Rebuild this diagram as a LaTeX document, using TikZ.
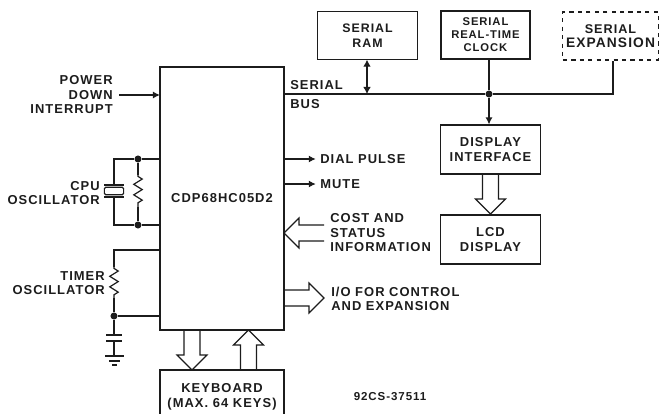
\documentclass[tikz,border=0pt]{standalone}
\usepackage{fontspec}
\setmainfont[LetterSpace=8]{Liberation Sans}
\usetikzlibrary{arrows.meta,decorations.pathmorphing}
\definecolor{ink}{HTML}{1C1C1C}
\tikzset{
  wire/.style={draw=ink,line width=0.85pt},
  sig/.style={wire,-{Latex[length=5pt,width=5pt]}},
  lbl/.style={text=ink,inner sep=0pt,font=\bfseries\fontsize{9.2}{10.3}\selectfont},
  block/.style={wire,lbl,align=center,inner sep=0pt},
  junction/.style={circle,fill=ink,inner sep=0pt,minimum size=5pt},
  zig/.style={wire,decorate,decoration={zigzag,segment length=7.5pt,amplitude=3pt,pre length=1pt,post length=1pt}}
}
\newcommand{\fatarrow}[3]{\draw[wire,shift={(#1)},rotate=#2] (-#3,8) -- (-15,8) -- (-15,15) -- (0,0) -- (-15,-15) -- (-15,-8) -- (-#3,-8);}
\begin{document}
\begin{tikzpicture}[x=0.025cm,y=-0.025cm]
\useasboundingbox (0,0) rectangle (659,414);
% blocks
\node[block,minimum width=3.1cm,minimum height=6.57cm] (mcu) at (222,198.5) {CDP68HC05D2};
\node[block,minimum width=3.1cm,minimum height=1.35cm] (kbd) at (222,397) {KEYBOARD\\(MAX. 64 KEYS)};
\node[block,minimum width=2.48cm,minimum height=1.18cm,font=\bfseries\fontsize{8.8}{10.3}\selectfont] (ram) at (367.5,35.5) {SERIAL\\RAM};
\node[block,minimum width=2.23cm,minimum height=1.2cm,line width=1.2pt,font=\bfseries\fontsize{8}{9.2}\selectfont] (rtc) at (485.5,35) {SERIAL\\REAL-TIME\\CLOCK};
\node[block,dashed,minimum width=2.38cm,minimum height=1.2cm,font=\bfseries\fontsize{9.8}{10.3}\selectfont] (exp) at (610.5,36) {{\fontsize{9}{10.3}\selectfont SERIAL}\\EXPANSION};
\node[block,minimum width=2.48cm,minimum height=1.22cm] (disp) at (490.5,149.5) {DISPLAY\\INTERFACE};
\node[block,minimum width=2.48cm,minimum height=1.22cm] (lcd) at (490.5,239.5) {LCD\\DISPLAY};

% serial bus
\coordinate (busl) at (284,94);
\coordinate (busr) at (613,94);
\coordinate (busram) at (367,94);
\node[junction] (busj) at (489,94) {};
\draw[wire] (busl) -- (busj) -- (busr) -- (busr |- exp.south);
\draw[wire,{Latex[length=5pt,width=5.5pt]}-{Latex[length=5pt,width=5.5pt]}] (busram |- ram.south) -- (busram);
\draw[wire,line width=1.2pt] (busj |- rtc.south) -- (busj);
\draw[sig,line width=1.2pt] (busj) -- (busj |- disp.north);
\node[lbl,anchor=west] (serial) at (290,85) {SERIAL};
\node[lbl,anchor=west] (bus) at (290,104) {BUS};

% left side inputs
\node[lbl,anchor=east,align=right] (pwr) at (113,95) {POWER\\DOWN\\INTERRUPT};
\coordinate (pwrout) at (119,95);
\coordinate (pwrin) at (160,95);
\draw[sig] (pwrout) -- (pwrin);

% cpu oscillator
\coordinate (cputop) at (160,159);
\coordinate (cpubot) at (160,225);
\coordinate (xtop) at (114,159);
\coordinate (xbot) at (114,225);
\node[junction] (j1) at (138,159) {};
\node[junction] (j2) at (138,225) {};
\node[wire,minimum width=0.48cm,minimum height=0.19cm,inner sep=0pt,rounded corners=1pt] (xtal) at (114,191) {};
\draw[wire] (cputop) -- (j1) -- (xtop) -- (114,185);
\draw[wire] (cpubot) -- (j2) -- (xbot) -- (114,197);
\draw[wire] (104,185) -- (124,185);
\draw[wire] (104,197) -- (124,197);
\draw[wire] (j1) -- (138,175);
\draw[zig] (138,175) -- (138,207);
\draw[wire] (138,207) -- (j2);
\node[lbl,anchor=east,align=right] (cpulbl) at (100,193) {CPU\\OSCILLATOR};

% timer oscillator
\coordinate (ttop) at (160,250);
\coordinate (tcor) at (114,250);
\coordinate (tbot) at (160,316);
\node[junction] (j3) at (114,316) {};
\draw[wire] (ttop) -- (tcor) -- (114,267);
\draw[zig] (114,267) -- (114,298);
\draw[wire] (114,298) -- (j3) -- (tbot);
\draw[wire] (j3) -- (114,335);
\draw[wire] (106,335) -- (122,335);
\draw[wire] (106,341) -- (122,341);
\draw[wire] (114,341) -- (114,356);
\draw[wire] (105,356) -- (124,356);
\draw[wire] (109,361) -- (120,361);
\draw[wire] (112,365) -- (117,365);
\node[lbl,anchor=east,align=right] (tmrlbl) at (105,283) {TIMER\\OSCILLATOR};

% right side outputs
\coordinate (dialout) at (284,159);
\coordinate (muteout) at (284,184);
\node[lbl,anchor=west] (dial) at (320,159) {DIAL PULSE};
\node[lbl,anchor=west] (mute) at (320,184) {MUTE};
\draw[sig,shorten >=3pt] (dialout) -- (dial.west);
\draw[sig,shorten >=3pt] (muteout) -- (mute.west);
\node[lbl,anchor=west,align=left] (cost) at (330,233) {COST AND\\STATUS\\INFORMATION};
\node[lbl,anchor=west,align=left] (io) at (331,299) {I/O FOR CONTROL\\AND EXPANSION};
\coordinate (costtip) at (284,233);
\coordinate (iotip) at (324,298);
\fatarrow{costtip}{180}{40}
\fatarrow{iotip}{0}{40}

% display and keyboard buses
\coordinate (lcdtip) at (490.5,214);
\coordinate (kbdtip) at (192,370);
\coordinate (mcutip) at (248.5,330);
\fatarrow{lcdtip}{-90}{40}
\fatarrow{kbdtip}{-90}{40}
\fatarrow{mcutip}{90}{40}

\node[lbl,font=\bfseries\fontsize{8.2}{9}\selectfont,anchor=center] (code) at (390,397) {92CS-37511};
\end{tikzpicture}
\end{document}
